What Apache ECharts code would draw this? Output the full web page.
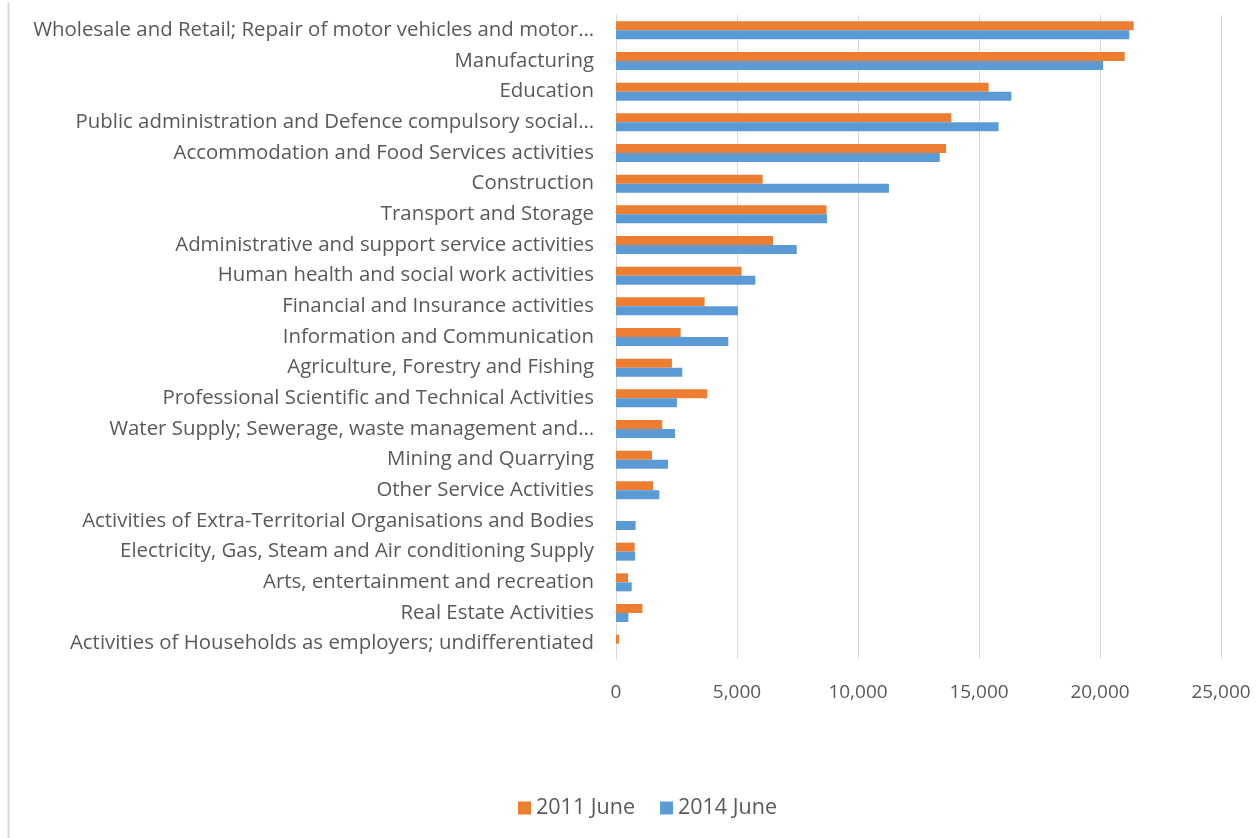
<!DOCTYPE html>
<html>
<head>
<meta charset="utf-8">
<script src="https://cdn.jsdelivr.net/npm/echarts@6/dist/echarts.min.js"></script>
<style>
  html, body { margin: 0; padding: 0; background: #fff; }
  #main { width: 1257px; height: 838px; }
</style>
</head>
<body>
<div id="main"></div>
<script>
"use strict"
// categories, top to bottom as shown
var sectors = [
  'Wholesale and Retail; Repair of motor vehicles and motor\u2026',
  'Manufacturing',
  'Education',
  'Public administration and Defence compulsory social\u2026',
  'Accommodation and Food Services activities',
  'Construction',
  'Transport and Storage',
  'Administrative and support service activities',
  'Human health and social work activities',
  'Financial and Insurance activities',
  'Information and Communication',
  'Agriculture, Forestry and Fishing',
  'Professional Scientific and Technical Activities',
  'Water Supply; Sewerage, waste management and\u2026',
  'Mining and Quarrying',
  'Other Service Activities',
  'Activities of Extra-Territorial Organisations and Bodies',
  'Electricity, Gas, Steam and Air conditioning Supply',
  'Arts, entertainment and recreation',
  'Real Estate Activities',
  'Activities of Households as employers; undifferentiated'
];
var june2011 = [21390, 21020, 15400, 13860, 13640, 6060, 8700, 6490, 5190, 3660,
                2670, 2310, 3770, 1910, 1490, 1530, 0, 770, 500, 1090, 120];
var june2014 = [21210, 20130, 16340, 15810, 13380, 11280, 8720, 7470, 5760, 5040,
                4640, 2740, 2520, 2440, 2150, 1790, 810, 790, 650, 510, 0];
var seriesNames = ['2011 June', '2014 June'];

var myChart = echarts.init(document.getElementById('main'));
var txt = '#595959';
var font = '"Open Sans", sans-serif';

var option = {
  animation: false,
  textStyle: { fontFamily: font },
  grid: { left: 616, right: 36, top: 15, bottom: 179, containLabel: false },
  legend: {
    data: seriesNames,
    bottom: 14,
    left: 513,
    itemWidth: 13,
    itemHeight: 13,
    itemGap: 25,
    icon: 'rect',
    textStyle: { color: txt, fontSize: 21.5, fontFamily: font }
  },
  xAxis: {
    type: 'value',
    min: 0,
    max: 25000,
    interval: 5000,
    axisLine: { show: false },
    axisTick: { show: false },
    splitLine: { lineStyle: { color: '#d9d9d9', width: 1 } },
    axisLabel: {
      color: txt, fontSize: 19, margin: 24, fontFamily: font,
      formatter: function (v) { return v.toLocaleString('en-US'); }
    }
  },
  yAxis: {
    type: 'category',
    inverse: true,
    data: sectors,
    axisLine: { show: true, lineStyle: { color: '#d9d9d9', width: 1 } },
    axisTick: { show: false },
    axisLabel: { color: txt, fontSize: 20.4, margin: 22, fontFamily: font }
  },
  series: [
    {
      name: seriesNames[0], type: 'bar', data: june2011,
      barWidth: 9, barGap: '0%',
      itemStyle: { color: '#ED7D31' }
    },
    {
      name: seriesNames[1], type: 'bar', data: june2014,
      barWidth: 9, barGap: '0%',
      itemStyle: { color: '#5B9BD5' }
    }
  ],
  graphic: [{
    type: 'line', left: 6, top: 0,
    shape: { x1: 0, y1: 0, x2: 0, y2: 838 },
    style: { stroke: '#d9d9d9', lineWidth: 2 }
  }]
};

myChart.setOption(option, true);
</script>
</body>
</html>
